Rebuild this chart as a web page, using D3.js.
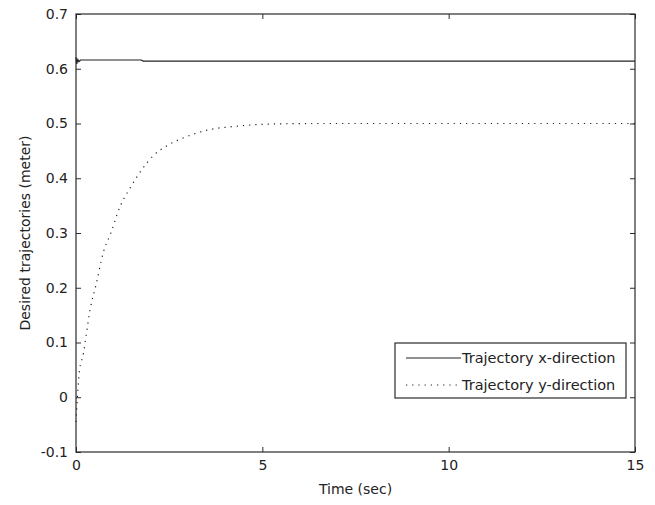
<!DOCTYPE html>
<html>
<head>
<meta charset="utf-8">
<script src="https://cdn.jsdelivr.net/npm/d3@7"></script>
<style>
  body { margin: 0; background: #fff; }
  text { font-family: "DejaVu Sans", sans-serif; fill: #222; }
</style>
</head>
<body>
<div id="chart"></div>
<script>
// values
const seriesNames = ["Trajectory x-direction", "Trajectory y-direction"];

const xTime = [0, 0.02, 0.05, 0.08, 0.12, 0.2, 0.5, 1.0, 1.75, 1.8, 3, 6, 9, 12, 15];
const xVals = [0.621, 0.609, 0.617, 0.613, 0.616, 0.616, 0.616, 0.616, 0.616, 0.614, 0.614, 0.614, 0.614, 0.614, 0.614];

const yTime = [0, 0.02, 0.05, 0.09, 0.2, 0.27, 0.375, 0.54, 0.73, 0.93, 1.18, 1.45, 1.76, 2.07, 2.43, 2.97, 3.46, 4.31, 5.2, 6.5, 8, 10, 12, 15];
const yVals = [-0.045, -0.02, 0.013, 0.047, 0.08, 0.112, 0.159, 0.206, 0.264, 0.299, 0.348, 0.382, 0.415, 0.441, 0.459, 0.476, 0.487, 0.495, 0.499, 0.5, 0.5, 0.5, 0.5, 0.5];

const xTicks = [0, 5, 10, 15];
const yTicks = [-0.1, 0, 0.1, 0.2, 0.3, 0.4, 0.5, 0.6, 0.7];

function drawChart() {
  const width = 655;
  const height = 505;
  const margin = {top: 14, right: 20, bottom: 53, left: 76};

  d3.select("#chart").selectAll("*").remove();

  const svg = d3.select("#chart").append("svg")
    .attr("width", width)
    .attr("height", height);

  const x = d3.scaleLinear().domain([0, 15]).range([margin.left, width - margin.right]);
  const y = d3.scaleLinear().domain([-0.1, 0.7]).range([height - margin.bottom, margin.top]);

  const tickLen = 5;
  const axisColor = "#2a2a2a";

  // ticks inside the box, on all four sides (matlab style)
  const styleAxis = g => {
    g.select(".domain").remove();
    g.selectAll(".tick line").attr("stroke", axisColor);
    g.selectAll(".tick text").attr("font-size", "14px").style("font-family", "DejaVu Sans, sans-serif");
  };

  svg.append("g")
    .attr("transform", `translate(0,${height - margin.bottom})`)
    .call(d3.axisBottom(x).tickValues(xTicks).tickFormat(d => String(d)).tickSizeInner(-tickLen).tickPadding(8))
    .call(styleAxis);

  svg.append("g")
    .attr("transform", `translate(0,${margin.top})`)
    .call(d3.axisTop(x).tickValues(xTicks).tickFormat("").tickSizeInner(-tickLen))
    .call(styleAxis);

  // plain hyphen for the minus sign, like the original
  svg.append("g")
    .attr("transform", `translate(${margin.left},0)`)
    .call(d3.axisLeft(y).tickValues(yTicks).tickFormat(d => String(+d.toFixed(1))).tickSizeInner(-tickLen).tickPadding(8))
    .call(styleAxis);

  svg.append("g")
    .attr("transform", `translate(${width - margin.right},0)`)
    .call(d3.axisRight(y).tickValues(yTicks).tickFormat("").tickSizeInner(-tickLen))
    .call(styleAxis);

  svg.append("rect")
    .attr("x", margin.left)
    .attr("y", margin.top)
    .attr("width", width - margin.left - margin.right)
    .attr("height", height - margin.top - margin.bottom)
    .attr("fill", "none")
    .attr("stroke", axisColor)
    .attr("stroke-width", 1.2);

  const line = d3.line()
    .x(d => x(d[0]))
    .y(d => y(d[1]));

  svg.append("path")
    .datum(xTime.map((t, i) => [t, xVals[i]]))
    .attr("d", line.curve(d3.curveLinear))
    .attr("fill", "none")
    .attr("stroke", "#222")
    .attr("stroke-width", 1.2);

  svg.append("path")
    .datum(yTime.map((t, i) => [t, yVals[i]]))
    .attr("d", line.curve(d3.curveMonotoneX))
    .attr("fill", "none")
    .attr("stroke", "#222")
    .attr("stroke-width", 1.2)
    .attr("stroke-dasharray", "1.2,5");

  // axis labels
  svg.append("text")
    .attr("x", (margin.left + width - margin.right) / 2)
    .attr("y", 494)
    .attr("text-anchor", "middle")
    .attr("font-size", "14px")
    .text("Time (sec)");

  svg.append("text")
    .attr("transform", `translate(30,${(margin.top + height - margin.bottom) / 2}) rotate(-90)`)
    .attr("text-anchor", "middle")
    .attr("font-size", "14px")
    .text("Desired trajectories (meter)");

  // legend
  const lg = svg.append("g").attr("transform", "translate(395,343)");
  lg.append("rect")
    .attr("width", 231)
    .attr("height", 55)
    .attr("fill", "#fff")
    .attr("stroke", axisColor)
    .attr("stroke-width", 1.2);

  const rows = lg.selectAll("g.row")
    .data(seriesNames)
    .join("g")
    .attr("class", "row")
    .attr("transform", (d, i) => `translate(0,${15 + i * 27})`);

  rows.append("line")
    .attr("x1", 11)
    .attr("x2", 66)
    .attr("stroke", "#222")
    .attr("stroke-width", 1.2)
    .attr("stroke-dasharray", (d, i) => i === 1 ? "1.2,5" : null);

  rows.append("text")
    .attr("x", 67)
    .attr("dy", "0.35em")
    .attr("font-size", "14.5px")
    .text(d => d);
}

drawChart();
</script>
</body>
</html>
